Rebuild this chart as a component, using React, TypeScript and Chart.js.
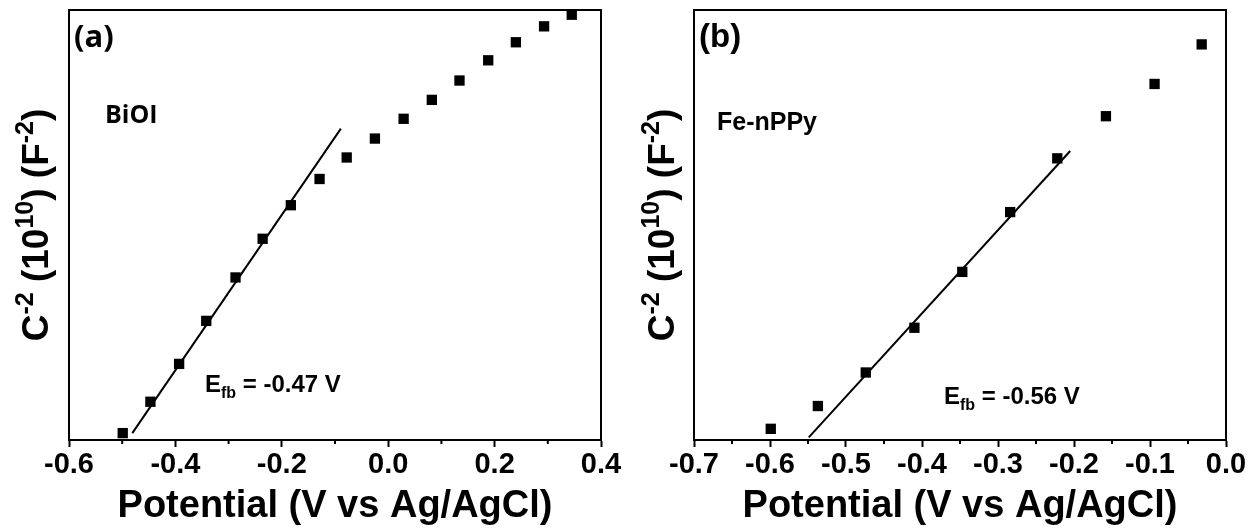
import React, { useEffect, useRef } from "react";
import { Chart, registerables } from "chart.js";

Chart.register(...registerables);

// ---- Data ----
// Panel (a) BiOI
const biOIPotential = [-0.499, -0.447, -0.393, -0.342, -0.287, -0.236, -0.183, -0.129, -0.078, -0.025, 0.029, 0.082, 0.134, 0.188, 0.24, 0.293, 0.345];
const biOIValue = [0.16, 0.89, 1.77, 2.77, 3.78, 4.68, 5.46, 6.07, 6.57, 7.01, 7.47, 7.91, 8.36, 8.83, 9.25, 9.62, 9.89];
const biOIFitPotential = [-0.481, -0.089];
const biOIFitValue = [0.16, 7.24];

// Panel (b) Fe-nPPy
const fePotential = [-0.599, -0.537, -0.474, -0.41, -0.347, -0.284, -0.222, -0.158, -0.094, -0.032];
const feValue = [0.26, 0.79, 1.57, 2.61, 3.91, 5.3, 6.55, 7.53, 8.28, 9.2];
const feFitPotential = [-0.549, -0.205];
const feFitValue = [0.06, 6.72];

// Axis ranges / tick steps
const xRangeA = [-0.6, 0.4];
const xStepA = [0.2, 0.1];
const xRangeB = [-0.7, 0.0];
const xStepB = [0.1, 0.05];
const yRange = [0, 10];

const xTitle = "Potential (V vs Ag/AgCl)";
const panelLabels = ["(a)", "(b)"];
const sampleNames = ["BiOI", "Fe-nPPy"];
const efbValues = ["-0.47 V", "-0.56 V"];

const ARIAL = "'Liberation Sans', Arial, sans-serif";
const OPEN = "'Open Sans', sans-serif";

type Run = { text: string; size: number; dy: number };

function drawRuns(ctx: CanvasRenderingContext2D, runs: Run[], x: number, y: number, family: string) {
  let cx = x;
  for (const r of runs) {
    ctx.font = `bold ${r.size}px ${family}`;
    ctx.fillText(r.text, cx, y + r.dy);
    cx += ctx.measureText(r.text).width;
  }
}
function runsWidth(ctx: CanvasRenderingContext2D, runs: Run[], family: string) {
  let w = 0;
  for (const r of runs) {
    ctx.font = `bold ${r.size}px ${family}`;
    w += ctx.measureText(r.text).width;
  }
  return w;
}

type PanelProps = {
  left: number;
  width: number;
  pad: { left: number; right: number; top: number };
  xRange: number[];
  xStep: number[];
  px: number[];
  py: number[];
  fx: number[];
  fy: number[];
  label: string;
  labelFont: string;
  labelSize: number;
  labelPos: [number, number];
  name: string;
  nameFont: string;
  nameSize: number;
  namePos: [number, number];
  efb: string;
  efbPos: [number, number];
  yTitleX: number;
};

function Panel(p: PanelProps) {
  const ref = useRef<HTMLCanvasElement | null>(null);
  useEffect(() => {
    const canvas = ref.current!;
    const decor = {
      id: "decor",
      afterDraw(chart: any) {
        const ctx: CanvasRenderingContext2D = chart.ctx;
        const a = chart.chartArea;
        const xs = chart.scales.x;
        ctx.save();
        // frame
        ctx.strokeStyle = "#000";
        ctx.lineWidth = 2;
        ctx.strokeRect(a.left, a.top, a.right - a.left, a.bottom - a.top);
        // minor ticks
        const [min, max] = p.xRange;
        const [major, minor] = p.xStep;
        const n = Math.round((max - min) / minor);
        const ratio = Math.round(major / minor);
        ctx.beginPath();
        for (let i = 0; i <= n; i++) {
          if (i % ratio === 0) continue;
          const x = xs.getPixelForValue(min + i * minor);
          ctx.moveTo(x, a.bottom);
          ctx.lineTo(x, a.bottom + 4);
        }
        ctx.stroke();
        // texts
        ctx.fillStyle = "#000";
        ctx.textBaseline = "alphabetic";
        ctx.textAlign = "left";
        ctx.font = `bold ${p.labelSize}px ${p.labelFont}`;
        ctx.fillText(p.label, p.labelPos[0], p.labelPos[1]);
        ctx.font = `bold ${p.nameSize}px ${p.nameFont}`;
        ctx.fillText(p.name, p.namePos[0], p.namePos[1]);
        drawRuns(
          ctx,
          [
            { text: "E", size: 24, dy: 0 },
            { text: "fb", size: 16, dy: 6 },
            { text: " = " + p.efb, size: 24, dy: 0 },
          ],
          p.efbPos[0],
          p.efbPos[1],
          ARIAL
        );
        // y title with superscripts, centred on the plot area
        const runs: Run[] = [
          { text: "C", size: 37, dy: 0 },
          { text: "-2", size: 25, dy: -15 },
          { text: " (10", size: 37, dy: 0 },
          { text: "10", size: 25, dy: -15 },
          { text: ") (F", size: 37, dy: 0 },
          { text: "-2", size: 25, dy: -15 },
          { text: ")", size: 37, dy: 0 },
        ];
        const w = runsWidth(ctx, runs, ARIAL);
        ctx.translate(p.yTitleX, (a.top + a.bottom) / 2);
        ctx.rotate(-Math.PI / 2);
        drawRuns(ctx, runs, -w / 2, 0, ARIAL);
        ctx.restore();
      },
    };
    const chart = new Chart(canvas, {
      type: "scatter",
      data: {
        datasets: [
          {
            data: p.px.map((x, i) => ({ x, y: p.py[i] })),
            pointStyle: "rect",
            pointRadius: 7.3,
            pointBorderWidth: 0,
            backgroundColor: "#000",
            borderColor: "#000",
            showLine: false,
            clip: false,
          },
          {
            data: p.fx.map((x, i) => ({ x, y: p.fy[i] })),
            showLine: true,
            pointRadius: 0,
            borderColor: "#000",
            borderWidth: 2,
            clip: false,
          },
        ],
      } as any,
      options: {
        animation: false,
        responsive: false,
        devicePixelRatio: 1,
        layout: { padding: { left: p.pad.left, right: p.pad.right, top: p.pad.top, bottom: 0 } },
        plugins: { legend: { display: false }, tooltip: { enabled: false } },
        scales: {
          x: {
            type: "linear",
            min: p.xRange[0],
            max: p.xRange[1],
            afterFit: (s: any) => {
              s.height = 89;
            },
            ticks: {
              stepSize: p.xStep[0],
              autoSkip: false,
              maxRotation: 0,
              padding: 1,
              color: "#000",
              font: { family: ARIAL, size: 29, weight: "bold" },
              callback: (v: any) => {
                const n = Number(v);
                return (Math.abs(n) < 1e-9 ? 0 : n).toFixed(1);
              },
            },
            grid: {
              display: true,
              drawOnChartArea: false,
              drawTicks: true,
              tickLength: 7,
              tickWidth: 2,
              tickColor: "#000",
            },
            border: { display: true, width: 2, color: "#000" },
            title: {
              display: true,
              text: xTitle,
              color: "#000",
              font: { family: ARIAL, size: 38, weight: "bold" },
              padding: 0,
            },
          },
          y: {
            type: "linear",
            display: false,
            min: yRange[0],
            max: yRange[1],
          },
        },
      } as any,
      plugins: [decor],
    });
    return () => chart.destroy();
  }, []);
  return (
    <canvas
      ref={ref}
      width={p.width}
      height={529}
      style={{ position: "absolute", left: p.left, top: 0, width: p.width, height: 529 }}
    />
  );
}

export default function App() {
  return (
    <div style={{ position: "absolute", left: 0, top: 0, width: 1255, height: 529, background: "#fff", overflow: "hidden" }}>
      <Panel
        left={0}
        width={627}
        pad={{ left: 69, right: 26, top: 10 }}
        xRange={xRangeA}
        xStep={xStepA}
        px={biOIPotential}
        py={biOIValue}
        fx={biOIFitPotential}
        fy={biOIFitValue}
        label={panelLabels[0]}
        labelFont={OPEN}
        labelSize={31}
        labelPos={[74, 47]}
        name={sampleNames[0]}
        nameFont={OPEN}
        nameSize={25}
        namePos={[105, 123]}
        efb={efbValues[0]}
        efbPos={[205, 392]}
        yTitleX={48}
      />
      <Panel
        left={627}
        width={628}
        pad={{ left: 67, right: 29, top: 10 }}
        xRange={xRangeB}
        xStep={xStepB}
        px={fePotential}
        py={feValue}
        fx={feFitPotential}
        fy={feFitValue}
        label={panelLabels[1]}
        labelFont={ARIAL}
        labelSize={33}
        labelPos={[72, 47]}
        name={sampleNames[1]}
        nameFont={ARIAL}
        nameSize={25}
        namePos={[90, 130]}
        efb={efbValues[1]}
        efbPos={[317, 404]}
        yTitleX={47}
      />
    </div>
  );
}
